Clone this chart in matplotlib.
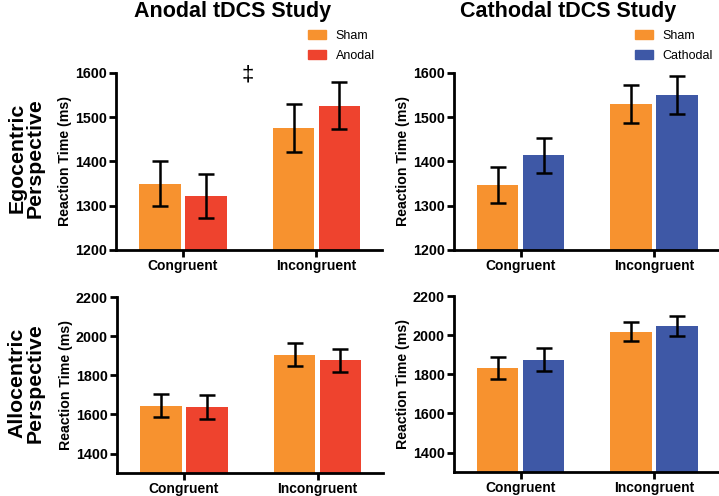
import matplotlib.pyplot as plt
import numpy as np
from matplotlib.patches import Patch

plt.rcParams['font.family'] = ['Liberation Sans', 'DejaVu Sans']

# datos
condiciones = ["Congruent", "Incongruent"]

anodal_ego_sham = [1350, 1475]
anodal_ego_sham_err = [50, 54]
anodal_ego_stim = [1322, 1526]
anodal_ego_stim_err = [49, 53]

cathodal_ego_sham = [1347, 1529]
cathodal_ego_sham_err = [40, 43]
cathodal_ego_stim = [1414, 1550]
cathodal_ego_stim_err = [40, 43]

anodal_allo_sham = [1645, 1905]
anodal_allo_sham_err = [60, 58]
anodal_allo_stim = [1640, 1876]
anodal_allo_stim_err = [61, 59]

cathodal_allo_sham = [1833, 2018]
cathodal_allo_sham_err = [55, 49]
cathodal_allo_stim = [1876, 2047]
cathodal_allo_stim_err = [57, 50]

naranja = "#F7922F"
rojo = "#EE432E"
azul = "#3E58A6"

fig = plt.figure(figsize=(7.19, 4.96), dpi=100)

W = 0.37
ax_tl = fig.add_axes([0.1613, 0.496, W, 0.357])
ax_tr = fig.add_axes([0.631, 0.496, W, 0.357])
ax_bl = fig.add_axes([0.1627, 0.046, W, 0.355])
ax_br = fig.add_axes([0.631, 0.048, W, 0.355])


def panel(ax, sham, sham_err, stim, stim_err, color, ylim, ticks):
    x = np.arange(len(condiciones))
    off = 0.172
    w = 0.31
    ax.bar(x - off, sham, w, color=naranja, zorder=1)
    ax.bar(x + off, stim, w, color=color, zorder=1)
    for xs, ys, es in [(x - off, sham, sham_err), (x + off, stim, stim_err)]:
        eb = ax.errorbar(xs, ys, yerr=es, fmt='none', ecolor='black',
                         elinewidth=1.8, capsize=6, capthick=1.8, zorder=3)
        for art in eb.lines[1] + eb.lines[2]:
            art.set_clip_on(False)
    ax.set_xlim(-0.5, 1.49)
    ax.set_ylim(*ylim)
    ax.set_yticks(ticks)
    ax.set_xticks(x)
    ax.set_xticklabels(condiciones, fontweight='bold', fontsize=10)
    for lab in ax.get_yticklabels():
        lab.set_fontweight('bold')
        lab.set_fontsize(10.3)
    ax.spines['top'].set_visible(False)
    ax.spines['right'].set_visible(False)
    ax.spines['left'].set_linewidth(2)
    ax.spines['bottom'].set_linewidth(2)
    ax.spines['left'].set_bounds(ylim[0], ticks[-1])
    ax.tick_params(width=2, length=5, pad=1.5)
    ax.set_ylabel("Reaction Time (ms)", fontweight='bold', fontsize=10.2, labelpad=2)


panel(ax_tl, anodal_ego_sham, anodal_ego_sham_err, anodal_ego_stim, anodal_ego_stim_err,
      rojo, (1200, 1600), [1200, 1300, 1400, 1500, 1600])
panel(ax_tr, cathodal_ego_sham, cathodal_ego_sham_err, cathodal_ego_stim, cathodal_ego_stim_err,
      azul, (1200, 1600), [1200, 1300, 1400, 1500, 1600])
panel(ax_bl, anodal_allo_sham, anodal_allo_sham_err, anodal_allo_stim, anodal_allo_stim_err,
      rojo, (1300, 2200), [1400, 1600, 1800, 2000, 2200])
panel(ax_br, cathodal_allo_sham, cathodal_allo_sham_err, cathodal_allo_stim, cathodal_allo_stim_err,
      azul, (1300, 2200), [1400, 1600, 1800, 2000, 2200])

# simbolo de significancia
ax_tl.text(0.485, 1596, "\u2021", ha='center', va='center', fontsize=16, clip_on=False)

# titulos de columnas
fig.text(233 / 719, 1 - 11 / 496, "Anodal tDCS Study", ha='center', va='center',
         fontsize=15.5, fontweight='bold')
fig.text(568 / 719, 1 - 11 / 496, "Cathodal tDCS Study", ha='center', va='center',
         fontsize=15.5, fontweight='bold')

# etiquetas de filas
fig.text(26 / 719, 1 - 158 / 496, "Egocentric\nPerspective", ha='center', va='center',
         rotation=90, fontsize=15.3, fontweight='bold', linespacing=0.95)
fig.text(26 / 719, 1 - 383 / 496, "Allocentric\nPerspective", ha='center', va='center',
         rotation=90, fontsize=15.3, fontweight='bold', linespacing=0.95)

# leyendas
h1 = [Patch(color=naranja, label="Sham"), Patch(color=rojo, label="Anodal")]
h2 = [Patch(color=naranja, label="Sham"), Patch(color=azul, label="Cathodal")]
opts = dict(loc='upper left', frameon=False, fontsize=9, handlelength=1.45,
            handleheight=0.72, handletextpad=0.75, labelspacing=0.65,
            borderaxespad=0, borderpad=0)
fig.legend(handles=h1, bbox_to_anchor=(308 / 719, 1 - 30 / 496), **opts)
fig.legend(handles=h2, bbox_to_anchor=(635 / 719, 1 - 30 / 496), **opts)

fig.savefig("out.png", dpi=100)
